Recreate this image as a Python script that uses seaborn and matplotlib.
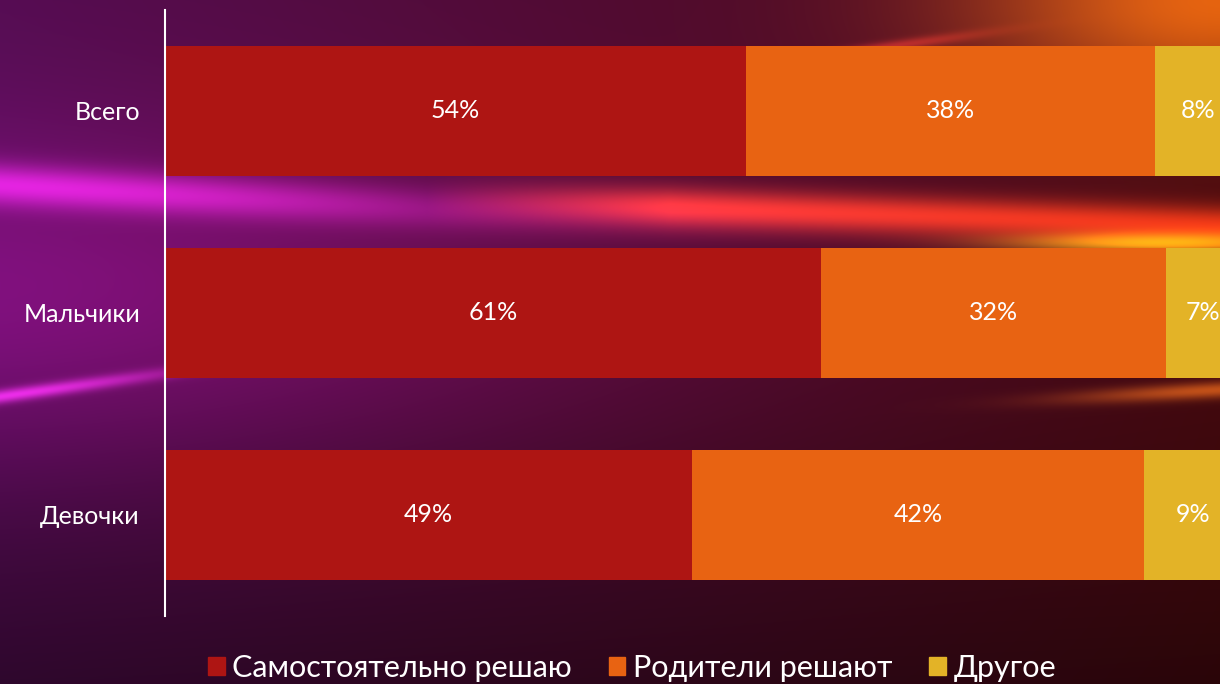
import numpy as np
import pandas as pd
import matplotlib
matplotlib.use("Agg")
import matplotlib.pyplot as plt
from matplotlib.patches import Patch
import seaborn as sns

# --- data ---
groups = ["Всего", "Мальчики", "Девочки"]
self_decide = [54, 61, 49]
parents_decide = [38, 32, 42]
other = [8, 7, 9]
series_names = ["Самостоятельно решаю", "Родители решают", "Другое"]
colors = ["#ae1513", "#e86312", "#e3b327"]

df = pd.DataFrame({"group": groups, "self": self_decide,
                   "parents": parents_decide, "other": other})
df["cum1"] = df["self"]
df["cum2"] = df["self"] + df["parents"]
df["cum3"] = df["cum2"] + df["other"]

sns.set_style("white")
plt.rcParams["font.family"] = ["Lato", "DejaVu Sans"]

W, H = 1220, 684
fig = plt.figure(figsize=(W / 100, H / 100), dpi=100)

# --- background (decorative gradient with light streaks) ---
bg = fig.add_axes([0, 0, 1, 1])
X, Y = np.meshgrid(np.linspace(0, 1, W), np.linspace(0, 1, H))
left_c = np.array([0.33, 0.05, 0.32])
right_c = np.array([0.30, 0.04, 0.06])
img = left_c * (1 - X[..., None]) + right_c * X[..., None]
mid = np.exp(-((Y - 0.45) / 0.25) ** 2) * np.exp(-(X / 0.5) ** 2)
img += mid[..., None] * np.array([0.22, 0.02, 0.22])
img *= (1 - 0.45 * Y ** 2)[..., None]
# top-right glow
g = np.exp(-(((X - 1.0) / 0.2) ** 2 + ((Y - 0.0) / 0.15) ** 2))
img += g[..., None] * np.array([0.6, 0.35, 0.0])
# diagonal streak at the top
yd = 0.07 - 0.25 * (X - 0.72)
sd = np.exp(-((Y - yd) / 0.008) ** 2) * np.exp(-((X - 0.72) / 0.08) ** 2)
img += sd[..., None] * np.array([0.35, 0.08, 0.05])
# magenta streak on the left
yc = 0.27 + 0.10 * X
s = np.exp(-((Y - yc) / 0.03) ** 2) * np.exp(-(X / 0.4) ** 2)
img += s[..., None] * np.array([0.45, 0.08, 0.45])
yc2 = 0.58 - 0.25 * X
s2 = np.exp(-((Y - yc2) / 0.01) ** 2) * np.exp(-(X / 0.14) ** 2)
img += s2[..., None] * np.array([0.5, 0.12, 0.5])
# red/orange/yellow streak on the right
yc3 = 0.30 + 0.06 * (X - 0.5)
s3 = np.exp(-((Y - yc3) / 0.028) ** 2) * np.clip((X - 0.35) / 0.2, 0, 1)
img += s3[..., None] * np.array([0.65, 0.18, 0.03])
s4 = np.exp(-((Y - 0.355) / 0.015) ** 2) * np.exp(-((X - 0.95) / 0.12) ** 2)
img += s4[..., None] * np.array([0.6, 0.6, 0.0])
# orange streak lower right
s5 = np.exp(-((Y - (0.58 - 0.1 * (X - 0.9))) / 0.012) ** 2) * np.exp(-((X - 1.0) / 0.12) ** 2)
img += s5[..., None] * np.array([0.5, 0.28, 0.04])
bg.imshow(np.clip(img, 0, 1), aspect="auto", extent=[0, 1, 0, 1])
bg.axis("off")

# --- chart axes (extends slightly past right edge like the original) ---
ax = fig.add_axes([165 / W, 68 / H, 1076 / W, 606 / H])
ax.patch.set_alpha(0)

# stacked bars drawn from the back
for col, c in zip(["cum3", "cum2", "cum1"], colors[::-1]):
    sns.barplot(data=df, y="group", x=col, color=c, orient="h", width=0.645,
                saturation=1, linewidth=0, edgecolor="none", ax=ax)

ax.set_xlim(0, 100)
ax.set_ylim(2.5, -0.5)
ax.set_xlabel("")
ax.set_ylabel("")
ax.set_xticks([])
for side in ["top", "right", "bottom"]:
    ax.spines[side].set_visible(False)
ax.spines["left"].set_color("white")
ax.spines["left"].set_linewidth(1.5)
ax.tick_params(axis="y", length=0, pad=18, labelsize=18, labelcolor="white")

# value labels
for i in range(len(groups)):
    starts = [0, df["cum1"][i], df["cum2"][i]]
    vals = [df["self"][i], df["parents"][i], df["other"][i]]
    for s0, v in zip(starts, vals):
        ax.text(s0 + v / 2, i, f"{v}%", ha="center", va="center",
                color="white", fontsize=18)

handles = [Patch(color=c) for c in colors]
fig.legend(handles, series_names, loc="center", bbox_to_anchor=(632 / W, 16 / H),
           ncol=3, frameon=False, fontsize=22, labelcolor="white",
           handlelength=0.55, handleheight=0.55, handletextpad=0.25, columnspacing=1.2)

fig.savefig("out.png", dpi=100)
